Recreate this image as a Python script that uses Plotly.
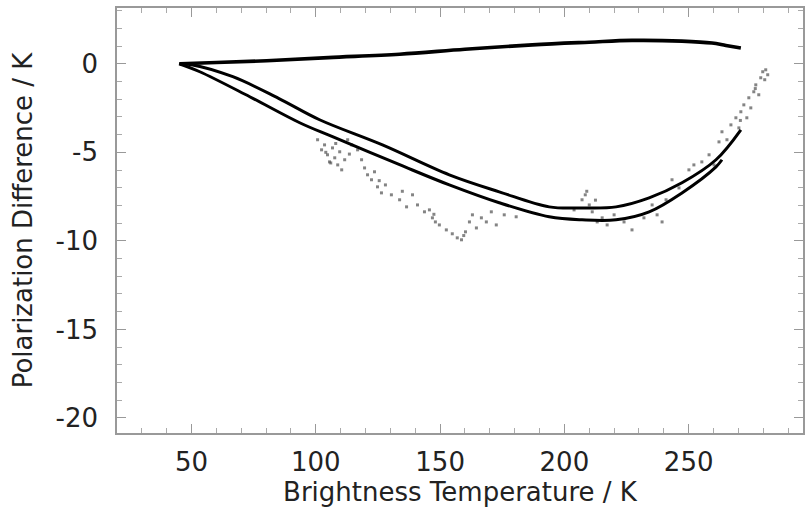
import plotly.graph_objects as go

# Upper model curve
upper_x = [45.3, 60, 80.2, 105, 133.7, 160, 187.1, 210, 227.2, 247.3, 259.4, 265, 271]
upper_y = [0.0, 0.07, 0.17, 0.35, 0.54, 0.82, 1.07, 1.22, 1.32, 1.28, 1.17, 1.03, 0.89]

# Lower band: inner (less negative) line
bandA_x = [45, 50, 66.6, 85, 101.5, 126.8, 153.7, 173.8, 193.9, 207.1, 220.8, 234.1, 247.3, 261.0, 271.0]
bandA_y = [0.0, -0.05, -0.73, -1.95, -3.16, -4.58, -6.27, -7.23, -8.08, -8.14, -8.08, -7.57, -6.72, -5.42, -3.73]

# Lower band: outer (more negative) line
bandB_x = [45, 53.3, 73.4, 93.5, 106.7, 133.7, 153.7, 173.8, 193.9, 207.1, 220.8, 234.1, 247.3, 261.0, 263.4]
bandB_y = [0.0, -0.45, -1.86, -3.33, -4.12, -5.70, -6.84, -7.85, -8.64, -8.81, -8.81, -8.36, -7.29, -5.82, -5.42]

# Observations (scatter)
obs_x = [100.7, 102.3, 103.5, 104.7, 105.5, 106.7, 107.6, 108.8, 109.6, 110.4, 111.6, 112.8,
         114.4, 116.8, 118.4, 119.6, 120.8, 122.4, 123.6, 124.8, 126.4, 128.0, 130.4, 133.7,
         136.5, 138.9, 140.9, 143.7, 145.7, 146.9, 148.1, 149.7, 152.5, 154.9, 156.9, 158.6,
         160.2, 161.8, 163.0, 164.6, 166.6, 168.6, 170.6, 172.6, 175.8, 180.6,
         203.9, 207.1, 208.4, 210.0, 211.2, 213.2, 215.2, 217.2, 220.0, 224.0, 227.2, 232.0,
         235.3, 237.3, 239.3, 240.9, 243.3, 246.1, 250.1, 252.1, 255.3, 258.2, 260.2, 262.2,
         263.4, 265.4, 267.0, 269.0, 270.2, 271.0, 272.2, 273.4, 274.2, 275.0, 276.2, 277.0,
         278.2, 279.0, 279.8, 280.6, 281.0, 281.8,
         104.0, 106.0, 108.0, 113.5, 125.5, 134.8, 147.5, 159.5, 209.0, 212.5, 270.8, 276.8]
obs_y = [-4.29, -4.86, -4.58, -5.14, -5.54, -4.75, -5.31, -5.71, -4.97, -5.99, -5.42, -4.29,
         -4.58, -4.86, -5.42, -5.88, -6.27, -6.55, -6.10, -6.95, -7.29, -6.84, -7.40, -7.68,
         -8.08, -7.40, -7.97, -8.36, -8.25, -8.70, -8.93, -9.10, -9.38, -9.60, -9.83, -9.94,
         -9.49, -8.93, -8.53, -9.27, -8.70, -8.93, -8.36, -9.10, -8.53, -8.64,
         -8.25, -7.68, -7.40, -7.97, -8.36, -8.93, -8.70, -9.10, -8.53, -8.93, -9.38, -8.70,
         -7.97, -8.53, -8.93, -7.68, -6.55, -7.01, -5.99, -5.71, -5.54, -5.14, -5.71, -4.41,
         -3.84, -4.29, -3.45, -3.05, -3.62, -2.71, -2.32, -3.05, -1.92, -2.49, -1.58, -1.19,
         -1.75, -0.79, -0.45, -0.90, -0.34, -0.62,
         -5.00, -5.60, -4.50, -5.10, -6.60, -7.20, -8.50, -9.70, -7.20, -7.70, -3.20, -1.40]

x_ticks = [50, 100, 150, 200, 250]
y_ticks = [0, -5, -10, -15, -20]

fig = go.Figure()
fig.add_trace(go.Scatter(x=obs_x, y=obs_y, mode="markers",
                         marker=dict(size=3, color="rgba(80,80,80,0.7)", symbol="square"),
                         showlegend=False))
fig.add_trace(go.Scatter(x=bandA_x, y=bandA_y, mode="lines", line=dict(color="black", width=3, shape="spline"), showlegend=False))
fig.add_trace(go.Scatter(x=bandB_x, y=bandB_y, mode="lines", line=dict(color="black", width=3, shape="spline"), showlegend=False))
fig.add_trace(go.Scatter(x=upper_x, y=upper_y, mode="lines", line=dict(color="black", width=3.6, shape="spline"), showlegend=False))

font = dict(family="DejaVu Sans, sans-serif", size=26, color="#222")
axis_common = dict(
    showgrid=False, zeroline=False, showline=True, linecolor="#999", linewidth=1.5,
    mirror="allticks", ticks="inside", ticklen=9, tickwidth=1, tickcolor="#999",
    tickfont=font,
    minor=dict(ticks="inside", ticklen=5, tickwidth=1, tickcolor="#aaa"),
)
fig.update_xaxes(range=[20, 296], tickvals=x_ticks, ticktext=[str(v) for v in x_ticks],
                 minor_dtick=10, ticklabelstandoff=5,
                 title=dict(text="Brightness Temperature / K", font=font, standoff=0),
                 **axis_common)
fig.update_yaxes(range=[-20.85, 3.15], tickvals=y_ticks, ticktext=[str(v) for v in y_ticks],
                 minor_dtick=1, ticklabelstandoff=12,
                 title=dict(text="Polarization Difference / K", font=font, standoff=15),
                 **axis_common)
fig.update_layout(width=807, height=512, margin=dict(l=117, r=2, t=8, b=79),
                  plot_bgcolor="white", paper_bgcolor="white", font=font)
fig.write_html("out.html")
